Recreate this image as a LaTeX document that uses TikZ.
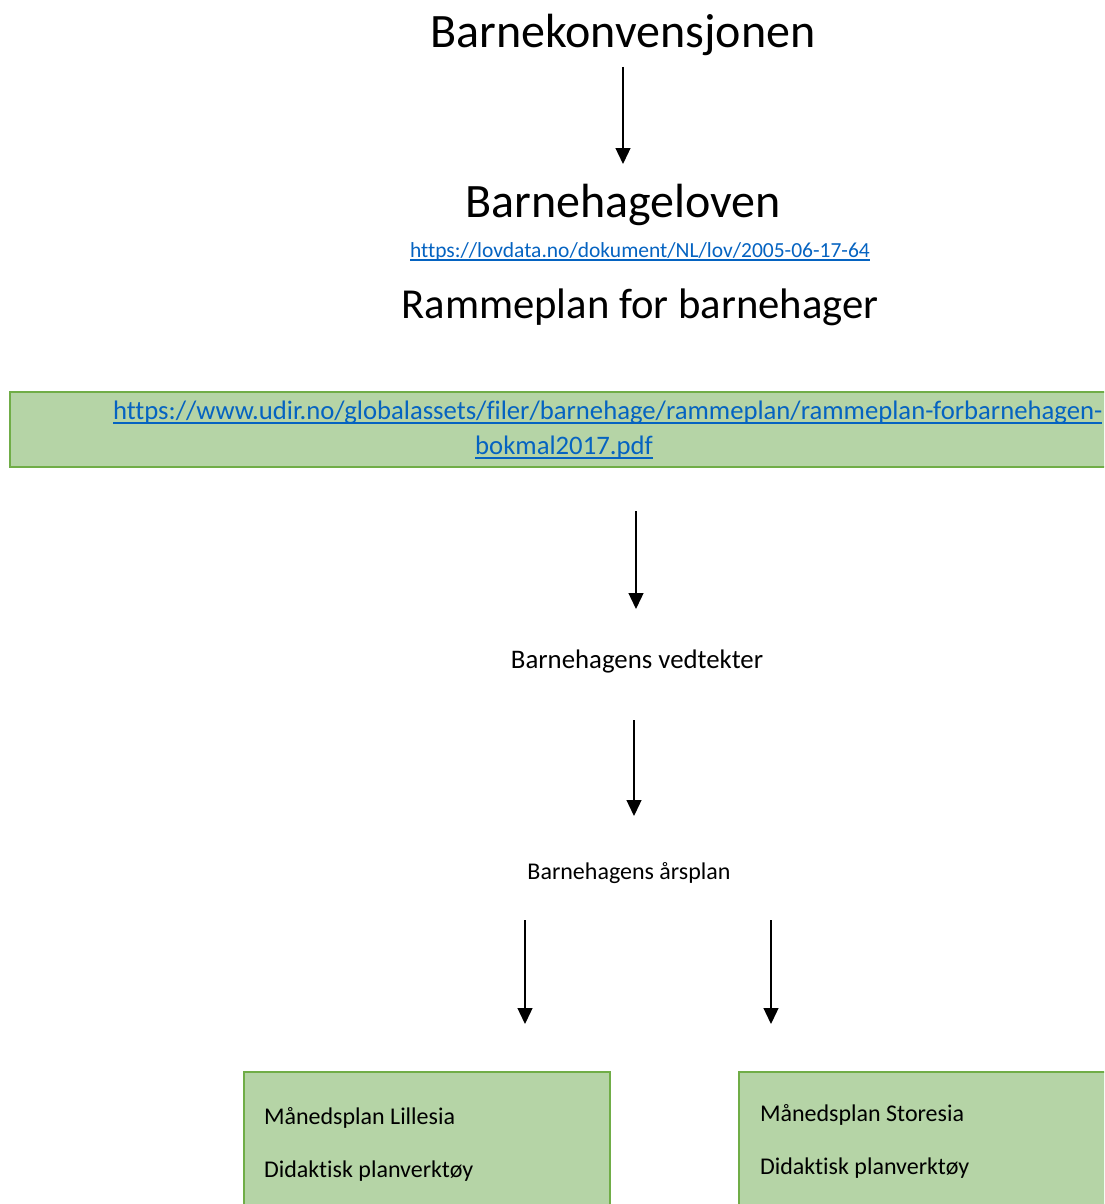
\documentclass[tikz,border=0pt]{standalone}
\usepackage{fontspec}
\setmainfont{Carlito}[Ligatures={NoCommon}]
\usetikzlibrary{arrows.meta}
\definecolor{boxfill}{HTML}{B5D4A6}
\definecolor{boxline}{HTML}{70AD47}
\definecolor{linkblue}{HTML}{0563C1}
\tikzset{
  txt/.style={inner sep=0pt, outer sep=0pt, text=black},
  big/.style={txt, font=\fontsize{48}{52}\selectfont},
  mid/.style={txt, font=\fontsize{42.7}{48}\selectfont},
  link/.style={inner sep=0pt, outer sep=0pt, text=linkblue},
  uline/.style={draw=linkblue, line width=1.5pt},
  plain/.style={txt, font=\fontsize{24}{28}\selectfont},
  greenbox/.style={draw=boxline, fill=boxfill, line width=2pt},
  flow/.style={draw=black, line width=1.3pt, -{Triangle[width=15pt,length=16pt]}},
}
\begin{document}
\begin{tikzpicture}[x=1pt,y=-1pt]
\useasboundingbox (0,0) rectangle (1104,1204);
\clip (0,0) rectangle (1104,1204);
% titles
\node[big, anchor=base] (konv) at (623,48) {Barnekonvensjonen};
\node[big, anchor=base] (lov) at (623,217) {Barnehageloven};
\node[link, anchor=base, font=\fontsize{21.5}{25}\selectfont] (lovurl) at (640,257) {https://lovdata.no/dokument/NL/lov/2005-06-17-64};
\draw[uline] ([yshift=-3pt]lovurl.base west) -- ([yshift=-3pt]lovurl.base east);
\node[mid, anchor=base] (ramme) at (640,318) {Rammeplan for barnehager};
% green url box
\path[greenbox] (10,392) rectangle (1120,467);
\node[link, anchor=base west, font=\fontsize{26.7}{31}\selectfont] (url1) at (113,419) {https://www.udir.no/globalassets/filer/barnehage/rammeplan/rammeplan-forbarnehagen-};
\draw[uline, line width=2pt] ([yshift=-4pt]url1.base west) -- ([yshift=-4pt]url1.base east);
\node[link, anchor=base, font=\fontsize{26.7}{31}\selectfont] (url2) at (564,454) {bokmal2017.pdf};
\draw[uline, line width=2pt] ([yshift=-4pt]url2.base west) -- ([yshift=-4pt]url2.base east);
% middle texts
\node[txt, anchor=base, font=\fontsize{26.8}{31}\selectfont] (vedt) at (637,668) {Barnehagens vedtekter};
\node[plain, anchor=base] (aars) at (629,879) {Barnehagens årsplan};
% bottom boxes
\path[greenbox] (244,1072) rectangle (610,1220);
\path[greenbox] (739,1072) rectangle (1120,1220);
\node[plain, anchor=base west] (lm) at (264,1124) {Månedsplan Lillesia};
\node[plain, anchor=base west] (ld) at (264,1177) {Didaktisk planverktøy};
\node[plain, anchor=base west] (sm) at (760,1121) {Månedsplan Storesia};
\node[plain, anchor=base west] (sd) at (760,1174) {Didaktisk planverktøy};
% arrow end points
\coordinate (a1s) at (623,67);  \coordinate (a1e) at (623,164);
\coordinate (a2s) at (636,511); \coordinate (a2e) at (636,609);
\coordinate (a3s) at (634,720); \coordinate (a3e) at (634,816);
\coordinate (a4s) at (525,920); \coordinate (a4e) at (525,1024);
\coordinate (a5s) at (771,920); \coordinate (a5e) at (771,1024);
\draw[flow] (a1s) -- (a1e);
\draw[flow] (a2s) -- (a2e);
\draw[flow] (a3s) -- (a3e);
\draw[flow] (a4s) -- (a4e);
\draw[flow] (a5s) -- (a5e);
\end{tikzpicture}
\end{document}
